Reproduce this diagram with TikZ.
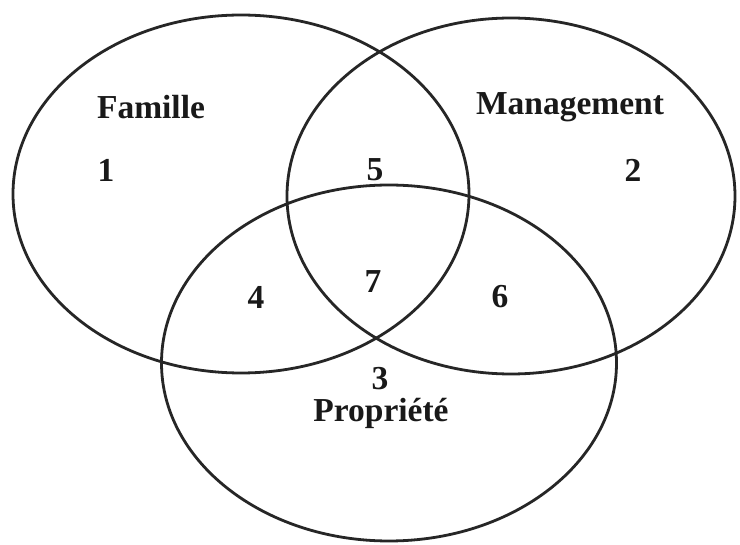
\documentclass[tikz,border=0pt]{standalone}
\usepackage{fontspec}
\setmainfont{Liberation Serif}
\usetikzlibrary{shapes.geometric}
\begin{document}
\begin{tikzpicture}[x=1pt,y=-1pt,
  setoval/.style={draw=black!85, line width=2.8pt, ellipse, inner sep=0pt},
  lbl/.style={font=\fontsize{33.5}{38}\selectfont\bfseries, text=black!90, inner sep=0pt}]
\useasboundingbox[fill=white] (0,0) rectangle (740,545);
\node[setoval, minimum width=456pt, minimum height=358pt] (fam) at (241,194) {};
\node[setoval, minimum width=448pt, minimum height=356pt] (man) at (511,196) {};
\node[setoval, minimum width=455pt, minimum height=356pt] (pro) at (389,363) {};
\node[lbl] (tfam) at (151,107) {Famille};
\node[lbl] (tman) at (570,107) {Management};
\node[lbl] (tpro) at (381,413) {Propriété};
\node[lbl] (n1) at (106,170) {1};
\node[lbl] (n2) at (633,170) {2};
\node[lbl] (n3) at (380,379) {3};
\node[lbl] (n4) at (256,297) {4};
\node[lbl] (n5) at (375,170) {5};
\node[lbl] (n6) at (500,297) {6};
\node[lbl] (n7) at (373,282) {7};
\end{tikzpicture}
\end{document}
